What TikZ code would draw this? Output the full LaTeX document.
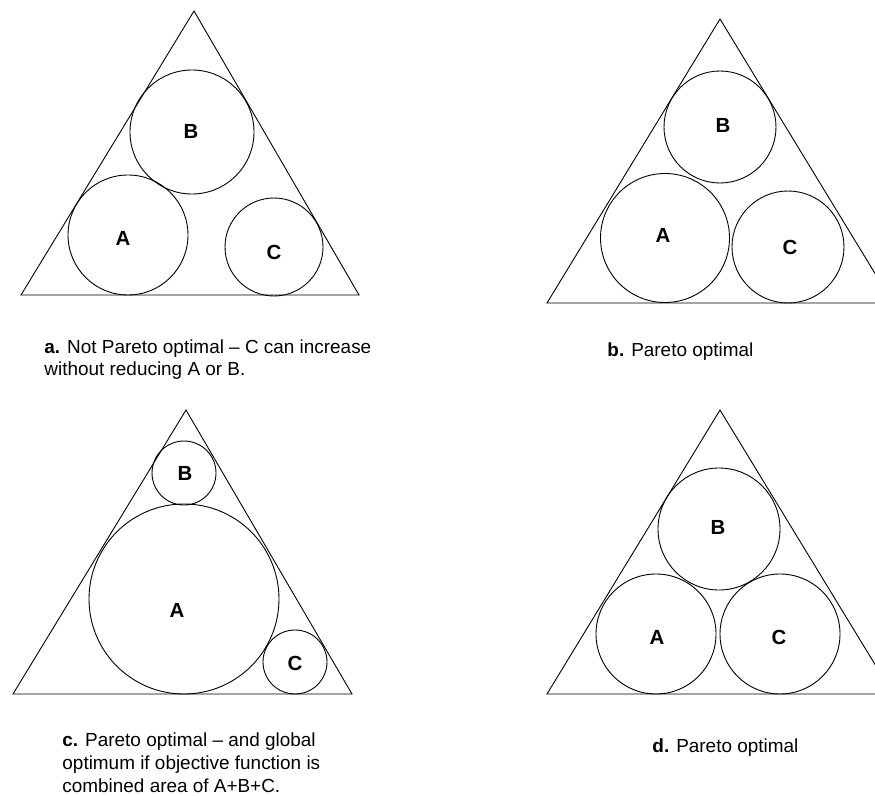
\documentclass[tikz,border=0pt]{standalone}
\usepackage{fontspec}
\setmainfont{Liberation Sans}
\begin{document}
\begin{tikzpicture}[x=1bp,y=-1bp,line width=0.9bp,
  tri/.style={draw,line join=miter},
  ball/.style={circle,draw,inner sep=0pt,outer sep=0pt},
  lbl/.style={font=\fontsize{20.5}{24}\selectfont\bfseries,inner sep=0pt},
  capline/.style={font=\fontsize{19}{22}\selectfont,anchor=base west,inner sep=0pt}]
\useasboundingbox (0,0) rectangle (875,796);
\clip (0,0) rectangle (875,796);
% ---------- a ----------
\coordinate (aT) at (194,11);
\coordinate (aL) at (21,295);
\coordinate (aR) at (359,295);
\draw[tri] (aT) -- (aL) -- (aR) -- cycle;
\node[ball,minimum size=124bp] (aB) at (192,132) {};
\node[ball,minimum size=120bp] (aA) at (128,235) {};
\node[ball,minimum size=98bp]  (aC) at (274,247) {};
\node[lbl] (aBl) at (191,131) {B};
\node[lbl] (aAl) at (123,238) {A};
\node[lbl] (aCl) at (274,252) {C};
\node[capline] (aCap1) at (44,353) {\textbf{a.} Not Pareto optimal – C can increase};
\node[capline] (aCap2) at (44,375) {without reducing A or B.};
% ---------- b ----------
\coordinate (bT) at (720,19);
\coordinate (bL) at (547,303);
\coordinate (bR) at (893,303);
\draw[tri] (bT) -- (bL) -- (bR) -- cycle;
\node[ball,minimum size=112bp] (bB) at (720,127) {};
\node[ball,minimum size=129bp] (bA) at (665,238) {};
\node[ball,minimum size=112bp] (bC) at (788,247) {};
\node[lbl] (bBl) at (723,125) {B};
\node[lbl] (bAl) at (663,235) {A};
\node[lbl] (bCl) at (790,247) {C};
\node[capline] (bCap1) at (607,356) {\textbf{b.} Pareto optimal};
% ---------- c ----------
\coordinate (cT) at (186,410);
\coordinate (cL) at (13,694);
\coordinate (cR) at (352,694);
\draw[tri] (cT) -- (cL) -- (cR) -- cycle;
\node[ball,minimum size=64bp]  (cB) at (184,473) {};
\node[ball,minimum size=190bp] (cA) at (184,599) {};
\node[ball,minimum size=64bp]  (cC) at (295,662) {};
\node[lbl] (cBl) at (185,473) {B};
\node[lbl] (cAl) at (177,610) {A};
\node[lbl] (cCl) at (295,663) {C};
\node[capline] (cCap1) at (62,746) {\textbf{c.} Pareto optimal – and global};
\node[capline] (cCap2) at (62,769) {optimum if objective function is};
\node[capline] (cCap3) at (62,792) {combined area of A+B+C.};
% ---------- d ----------
\coordinate (dT) at (720,410);
\coordinate (dL) at (547,694);
\coordinate (dR) at (893,694);
\draw[tri] (dT) -- (dL) -- (dR) -- cycle;
\node[ball,minimum size=122bp] (dB) at (719,529) {};
\node[ball,minimum size=120bp] (dA) at (656,634) {};
\node[ball,minimum size=120bp] (dC) at (780,634) {};
\node[lbl] (dBl) at (718,527) {B};
\node[lbl] (dAl) at (657,637) {A};
\node[lbl] (dCl) at (779,637) {C};
\node[capline] (dCap1) at (652,752) {\textbf{d.} Pareto optimal};
\end{tikzpicture}
\end{document}
